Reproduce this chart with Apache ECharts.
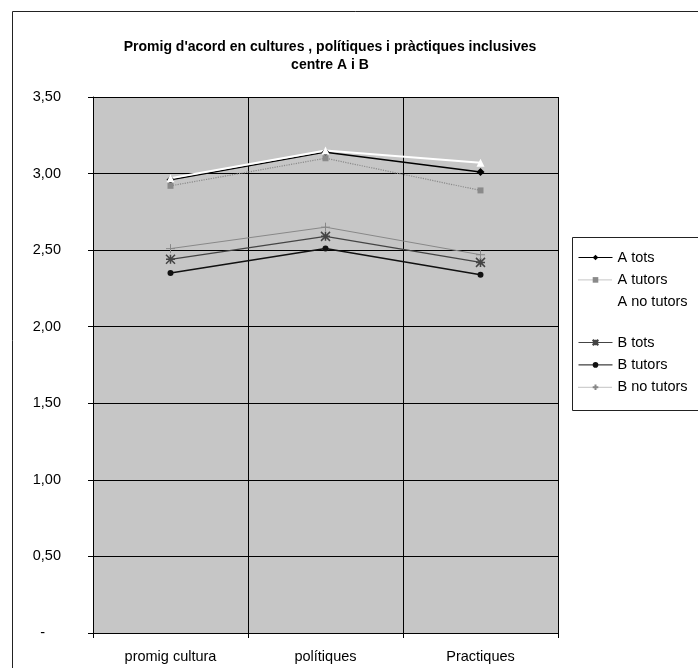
<!DOCTYPE html>
<html><head><meta charset="utf-8">
<script src="https://cdn.jsdelivr.net/npm/echarts@6/dist/echarts.min.js"></script>
<style>html,body{margin:0;padding:0;background:#fff}#c{width:698px;height:668px}</style>
</head><body><div id="c"></div>
<script>
const categories = ['promig cultura', 'polítiques', 'Practiques'];
const aTots = [2.96, 3.14, 3.01];
const aTutors = [2.92, 3.10, 2.89];
const aNoTutors = [2.97, 3.15, 3.07];
const bTots = [2.44, 2.59, 2.42];
const bTutors = [2.35, 2.51, 2.34];
const bNoTutors = [2.51, 2.65, 2.47];
const yTicks = [0, 0.5, 1, 1.5, 2, 2.5, 3, 3.5];

const font = 'Liberation Sans, Arial, sans-serif';
const asterisk = 'path://M0,0L10,10M10,0L0,10M5,0L5,10M0,5L10,5';
const plus = 'path://M5,0L5,10M0,5L10,5';
const fs = 14.5;

const legendCommon = {
  orient: 'vertical', left: 578, itemWidth: 34, itemHeight: 7, itemGap: 7.4, padding: 0,
  lineStyle: {width: 1},
  textStyle: {fontFamily: font, fontSize: fs, color: '#000', lineHeight: 14}
};

const chart = echarts.init(document.getElementById('c'), null, {renderer: 'canvas'});
chart.setOption({
  animation: false,
  backgroundColor: '#fff',
  title: {
    text: "Promig d'acord en cultures , polítiques i pràctiques inclusives\ncentre A i B",
    left: 325, top: 33, textAlign: 'center',
    textStyle: {fontFamily: font, fontSize: 14, fontWeight: 'bold', color: '#000', lineHeight: 18}
  },
  graphic: [
    {type: 'rect', shape: {x: 12.5, y: 11.5, width: 700, height: 680}, style: {fill: 'none', stroke: '#222', lineWidth: 1}, z: 100},
    {type: 'rect', shape: {x: 572.5, y: 237.5, width: 140, height: 173}, style: {fill: '#fff', stroke: '#222', lineWidth: 1}, z: 0}
  ],
  legend: [
    Object.assign({data: ['A tots', {name: 'A tutors', lineStyle: {type: 'dotted', width: 1}}, 'A no tutors'], top: 250}, legendCommon),
    Object.assign({data: ['B tots', 'B tutors', {name: 'B no tutors', lineStyle: {type: 'dotted', width: 1}}], top: 335}, legendCommon)
  ],
  grid: {left: 93, right: 140, top: 97, bottom: 35, show: true, backgroundColor: '#c6c6c6', borderWidth: 0},
  xAxis: {
    type: 'category', data: categories, boundaryGap: true,
    axisLine: {lineStyle: {color: '#000', width: 1}},
    axisTick: {show: true, length: 5, lineStyle: {color: '#000'}},
    splitLine: {show: true, lineStyle: {color: '#000', width: 1}},
    axisLabel: {fontFamily: font, fontSize: fs, color: '#000', margin: 16}
  },
  yAxis: {
    type: 'value', min: 0, max: 3.5, interval: 0.5,
    axisLine: {show: true, lineStyle: {color: '#000', width: 1}},
    axisTick: {show: true, length: 5, lineStyle: {color: '#000'}},
    splitLine: {show: true, lineStyle: {color: '#000', width: 1}},
    axisLabel: {
      fontFamily: font, fontSize: fs, color: '#000', margin: 32,
      formatter: v => v === 0 ? '{d|-}' : v.toFixed(2).replace('.', ','),
      rich: {d: {fontFamily: font, fontSize: fs, color: '#000', padding: [0, 16, 0, 0]}}
    }
  },
  series: [
    {name: 'A tots', type: 'line', data: aTots, symbol: 'diamond', symbolSize: 8,
     lineStyle: {color: '#000', width: 1.5}, itemStyle: {color: '#000'}},
    {name: 'A tutors', type: 'line', data: aTutors, symbol: 'rect', symbolSize: 6,
     lineStyle: {color: '#8a8a8a', width: 1.2, type: 'dotted'}, itemStyle: {color: '#8a8a8a'}},
    {name: 'A no tutors', type: 'line', data: aNoTutors, symbol: 'triangle', symbolSize: 8,
     lineStyle: {color: '#fff', width: 2}, itemStyle: {color: '#fff'}},
    {name: 'B tots', type: 'line', data: bTots, symbol: asterisk, symbolSize: 9,
     lineStyle: {color: '#444', width: 1.2}, itemStyle: {color: '#444', borderColor: '#444', borderWidth: 1.5}},
    {name: 'B tutors', type: 'line', data: bTutors, symbol: 'circle', symbolSize: 6,
     lineStyle: {color: '#111', width: 1.5}, itemStyle: {color: '#111'}},
    {name: 'B no tutors', type: 'line', data: bNoTutors, symbol: plus, symbolSize: 9,
     lineStyle: {color: '#888', width: 1}, itemStyle: {color: '#888', borderColor: '#888', borderWidth: 1}}
  ]
});
</script></body></html>
